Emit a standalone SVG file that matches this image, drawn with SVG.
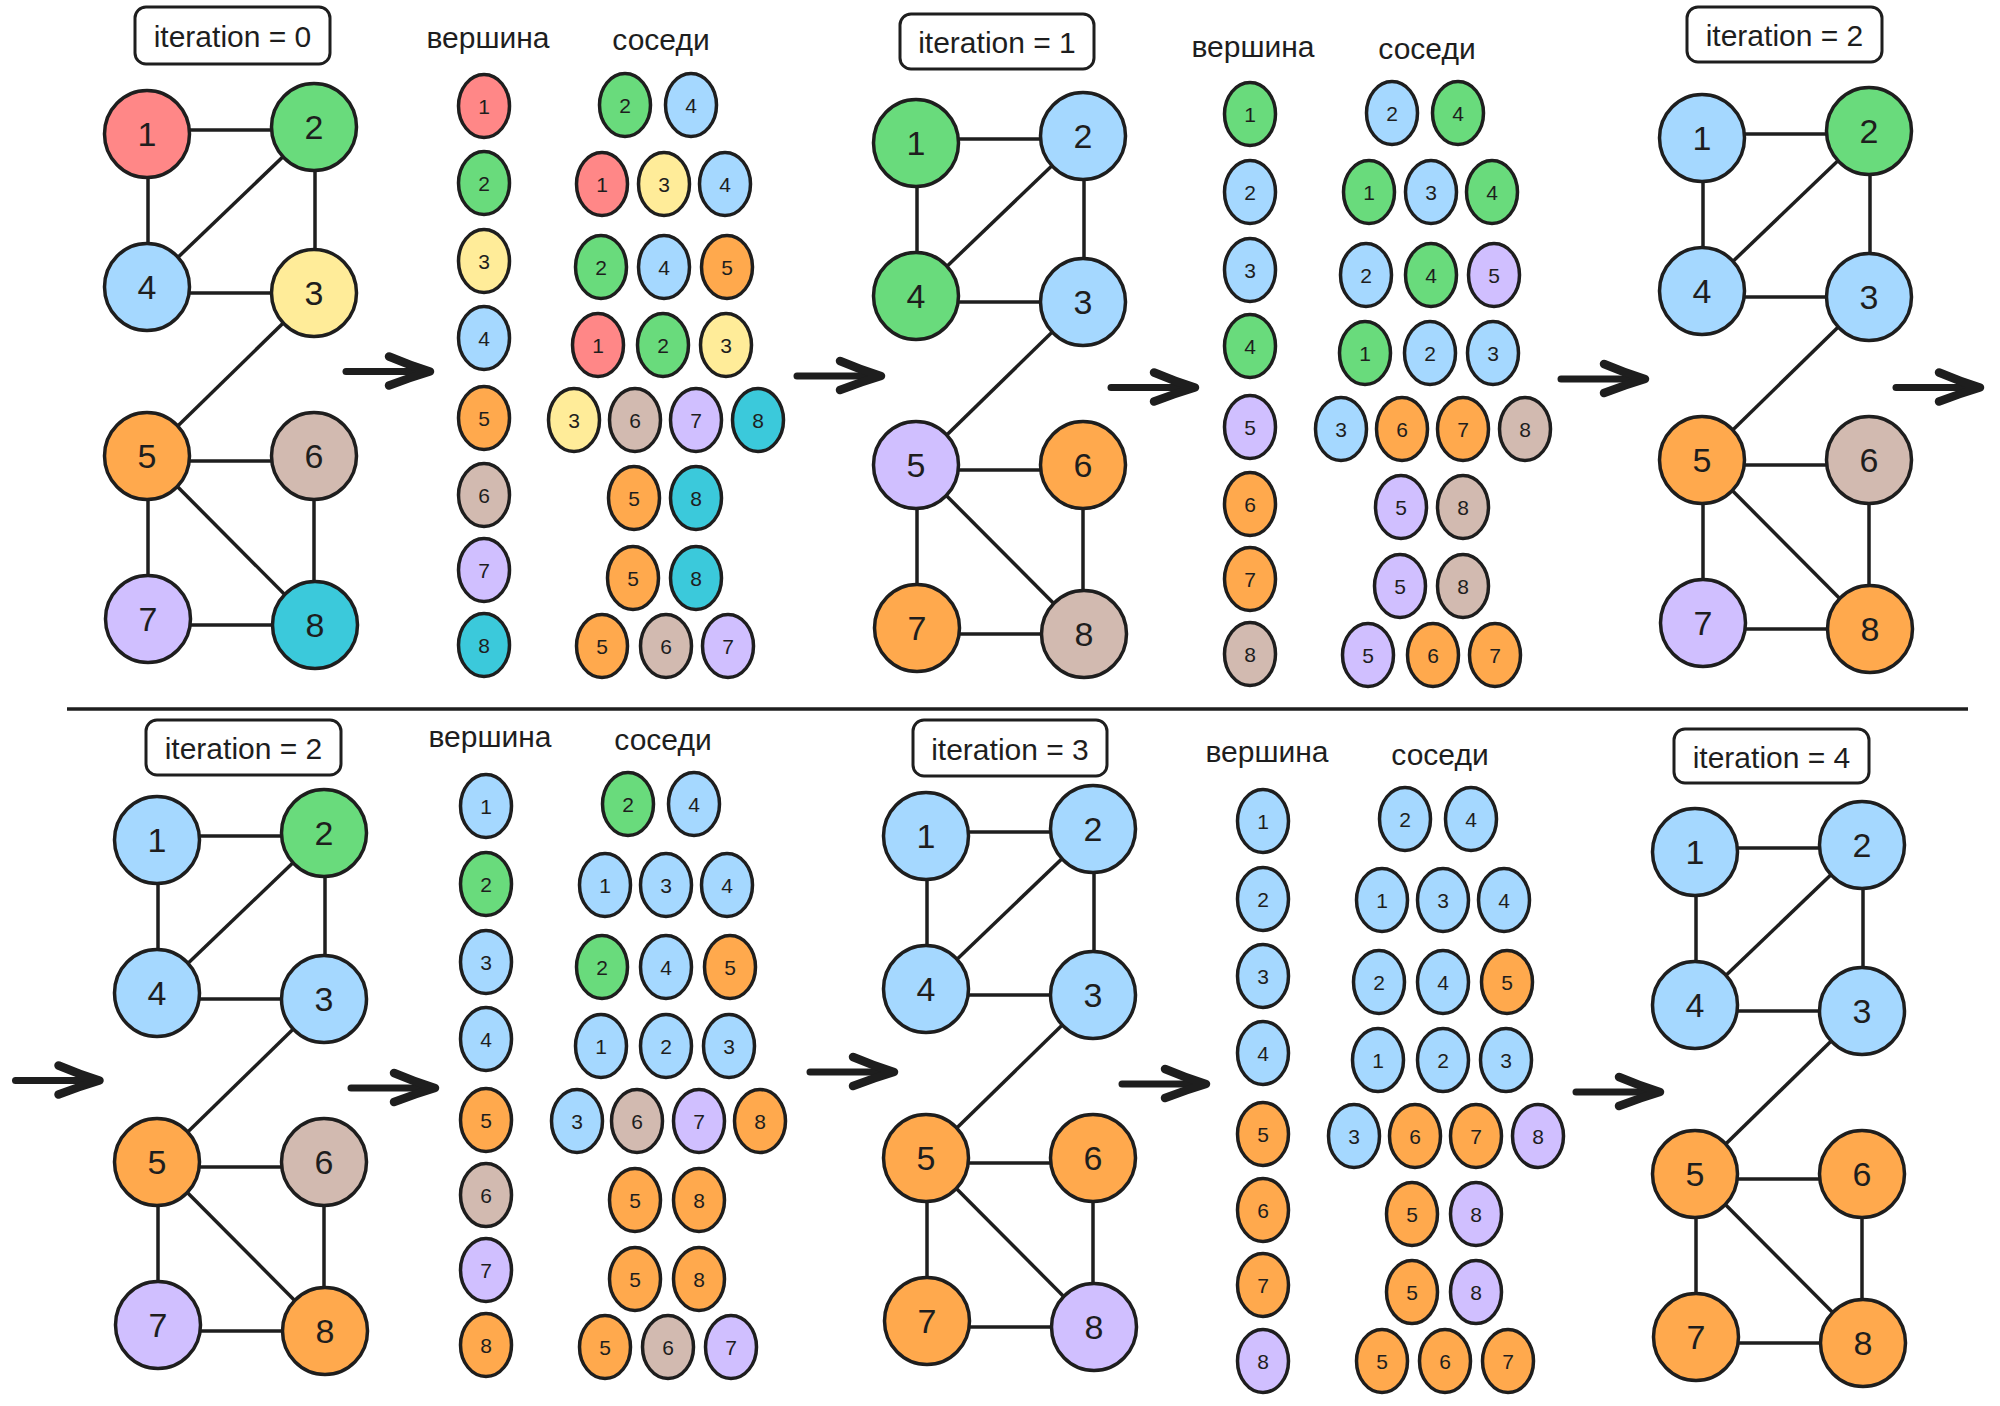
<svg xmlns="http://www.w3.org/2000/svg" xmlns:xlink="http://www.w3.org/1999/xlink" width="2000" height="1406" viewBox="0 0 2000 1406">
<style>
text{font-family:"Liberation Sans",Arial,sans-serif;fill:#1e1e1e;text-anchor:middle}
ellipse{stroke:#1e1e1e;stroke-width:3.5}
.big text{font-size:34px}
.sm text{font-size:21px}
.sm text.lbl{font-size:30px}
.box rect{fill:#fff;stroke:#1e1e1e;stroke-width:3}
.box text{font-size:30px}
.edge{stroke:#1e1e1e;stroke-width:3.5;fill:none}
.arr{stroke:#1e1e1e;fill:none;stroke-linecap:round;stroke-linejoin:round}
.R{fill:#ff8787}.G{fill:#69db7c}.Y{fill:#ffec99}.B{fill:#a5d8ff}.O{fill:#ffa94d}.T{fill:#d2bab0}.L{fill:#d0bfff}.C{fill:#3bc9db}
</style>
<defs>
<g id="edges" class="edge">
<line x1="0" y1="-4" x2="167" y2="-4"/>
<line x1="1" y1="0" x2="1" y2="153"/>
<line x1="167" y1="-7" x2="0" y2="153"/>
<line x1="168" y1="-7" x2="168" y2="159"/>
<line x1="0" y1="159" x2="167" y2="159"/>
<line x1="167" y1="159" x2="0" y2="322"/>
<line x1="0" y1="327" x2="167" y2="327"/>
<line x1="1" y1="322" x2="1" y2="485"/>
<line x1="0" y1="322" x2="168" y2="491"/>
<line x1="167" y1="322" x2="167" y2="491"/>
<line x1="1" y1="491" x2="168" y2="491"/>
</g>
<g id="arrow" class="arr">
<line x1="-84" y1="0" x2="-2" y2="0" stroke-width="7"/>
<path d="M-41,-15 Q-20,-6 0,0 Q-20,6 -41,14" stroke-width="8.5"/>
</g>
</defs>

<g id="connectors">
<use xlink:href="#edges" transform="translate(147,134)"/>
<use xlink:href="#edges" transform="translate(916,143)"/>
<use xlink:href="#edges" transform="translate(1702,138)"/>
<use xlink:href="#edges" transform="translate(157,840)"/>
<use xlink:href="#edges" transform="translate(926,836)"/>
<use xlink:href="#edges" transform="translate(1695,852)"/>
<use xlink:href="#arrow" transform="translate(430,371.5)"/>
<use xlink:href="#arrow" transform="translate(881,376)"/>
<use xlink:href="#arrow" transform="translate(1195,387.5)"/>
<use xlink:href="#arrow" transform="translate(1645,379)"/>
<use xlink:href="#arrow" transform="translate(1980,387.5)"/>
<use xlink:href="#arrow" transform="translate(99.5,1080.5)"/>
<use xlink:href="#arrow" transform="translate(435,1088)"/>
<use xlink:href="#arrow" transform="translate(894,1072)"/>
<use xlink:href="#arrow" transform="translate(1206,1084)"/>
<use xlink:href="#arrow" transform="translate(1660,1092)"/>
</g>

<line id="separator" x1="67" y1="709" x2="1968" y2="709" stroke="#1e1e1e" stroke-width="3.5"/>

<!-- iteration boxes -->
<g id="box0" class="box"><rect x="135" y="7" width="195" height="57" rx="11"/><text x="232.5" y="47">iteration = 0</text></g>
<g id="box1" class="box"><rect x="900" y="14" width="194" height="55" rx="11"/><text x="997" y="53">iteration = 1</text></g>
<g id="box2" class="box"><rect x="1687" y="7" width="195" height="55" rx="11"/><text x="1784.5" y="46">iteration = 2</text></g>
<g id="box3" class="box"><rect x="146" y="720" width="195" height="55" rx="11"/><text x="243.5" y="759">iteration = 2</text></g>
<g id="box4" class="box"><rect x="913" y="720" width="194" height="56" rx="11"/><text x="1010" y="759.5">iteration = 3</text></g>
<g id="box5" class="box"><rect x="1674" y="729" width="195" height="54" rx="11"/><text x="1771.5" y="767.5">iteration = 4</text></g>

<!-- graph 0 -->
<g id="graph0" class="big" transform="translate(147,134)">
<g id="g0-n1"><ellipse cx="0" cy="0" rx="42.5" ry="43.5" class="R"/><text x="0" y="12">1</text></g>
<g id="g0-n2"><ellipse cx="167" cy="-7" rx="42.5" ry="43.5" class="G"/><text x="167" y="5">2</text></g>
<g id="g0-n3"><ellipse cx="167" cy="159" rx="42.5" ry="43.5" class="Y"/><text x="167" y="171">3</text></g>
<g id="g0-n4"><ellipse cx="0" cy="153" rx="42.5" ry="43.5" class="B"/><text x="0" y="165">4</text></g>
<g id="g0-n5"><ellipse cx="0" cy="322" rx="42.5" ry="43.5" class="O"/><text x="0" y="334">5</text></g>
<g id="g0-n6"><ellipse cx="167" cy="322" rx="42.5" ry="43.5" class="T"/><text x="167" y="334">6</text></g>
<g id="g0-n7"><ellipse cx="1" cy="485" rx="42.5" ry="43.5" class="L"/><text x="1" y="497">7</text></g>
<g id="g0-n8"><ellipse cx="168" cy="491" rx="42.5" ry="43.5" class="C"/><text x="168" y="503">8</text></g>
</g>
<!-- graph 1 -->
<g id="graph1" class="big" transform="translate(916,143)">
<g id="g1-n1"><ellipse cx="0" cy="0" rx="42.5" ry="43.5" class="G"/><text x="0" y="12">1</text></g>
<g id="g1-n2"><ellipse cx="167" cy="-7" rx="42.5" ry="43.5" class="B"/><text x="167" y="5">2</text></g>
<g id="g1-n3"><ellipse cx="167" cy="159" rx="42.5" ry="43.5" class="B"/><text x="167" y="171">3</text></g>
<g id="g1-n4"><ellipse cx="0" cy="153" rx="42.5" ry="43.5" class="G"/><text x="0" y="165">4</text></g>
<g id="g1-n5"><ellipse cx="0" cy="322" rx="42.5" ry="43.5" class="L"/><text x="0" y="334">5</text></g>
<g id="g1-n6"><ellipse cx="167" cy="322" rx="42.5" ry="43.5" class="O"/><text x="167" y="334">6</text></g>
<g id="g1-n7"><ellipse cx="1" cy="485" rx="42.5" ry="43.5" class="O"/><text x="1" y="497">7</text></g>
<g id="g1-n8"><ellipse cx="168" cy="491" rx="42.5" ry="43.5" class="T"/><text x="168" y="503">8</text></g>
</g>
<!-- graph 2 -->
<g id="graph2" class="big" transform="translate(1702,138)">
<g id="g2-n1"><ellipse cx="0" cy="0" rx="42.5" ry="43.5" class="B"/><text x="0" y="12">1</text></g>
<g id="g2-n2"><ellipse cx="167" cy="-7" rx="42.5" ry="43.5" class="G"/><text x="167" y="5">2</text></g>
<g id="g2-n3"><ellipse cx="167" cy="159" rx="42.5" ry="43.5" class="B"/><text x="167" y="171">3</text></g>
<g id="g2-n4"><ellipse cx="0" cy="153" rx="42.5" ry="43.5" class="B"/><text x="0" y="165">4</text></g>
<g id="g2-n5"><ellipse cx="0" cy="322" rx="42.5" ry="43.5" class="O"/><text x="0" y="334">5</text></g>
<g id="g2-n6"><ellipse cx="167" cy="322" rx="42.5" ry="43.5" class="T"/><text x="167" y="334">6</text></g>
<g id="g2-n7"><ellipse cx="1" cy="485" rx="42.5" ry="43.5" class="L"/><text x="1" y="497">7</text></g>
<g id="g2-n8"><ellipse cx="168" cy="491" rx="42.5" ry="43.5" class="O"/><text x="168" y="503">8</text></g>
</g>
<!-- graph 3 -->
<g id="graph3" class="big" transform="translate(157,840)">
<g id="g3-n1"><ellipse cx="0" cy="0" rx="42.5" ry="43.5" class="B"/><text x="0" y="12">1</text></g>
<g id="g3-n2"><ellipse cx="167" cy="-7" rx="42.5" ry="43.5" class="G"/><text x="167" y="5">2</text></g>
<g id="g3-n3"><ellipse cx="167" cy="159" rx="42.5" ry="43.5" class="B"/><text x="167" y="171">3</text></g>
<g id="g3-n4"><ellipse cx="0" cy="153" rx="42.5" ry="43.5" class="B"/><text x="0" y="165">4</text></g>
<g id="g3-n5"><ellipse cx="0" cy="322" rx="42.5" ry="43.5" class="O"/><text x="0" y="334">5</text></g>
<g id="g3-n6"><ellipse cx="167" cy="322" rx="42.5" ry="43.5" class="T"/><text x="167" y="334">6</text></g>
<g id="g3-n7"><ellipse cx="1" cy="485" rx="42.5" ry="43.5" class="L"/><text x="1" y="497">7</text></g>
<g id="g3-n8"><ellipse cx="168" cy="491" rx="42.5" ry="43.5" class="O"/><text x="168" y="503">8</text></g>
</g>
<!-- graph 4 -->
<g id="graph4" class="big" transform="translate(926,836)">
<g id="g4-n1"><ellipse cx="0" cy="0" rx="42.5" ry="43.5" class="B"/><text x="0" y="12">1</text></g>
<g id="g4-n2"><ellipse cx="167" cy="-7" rx="42.5" ry="43.5" class="B"/><text x="167" y="5">2</text></g>
<g id="g4-n3"><ellipse cx="167" cy="159" rx="42.5" ry="43.5" class="B"/><text x="167" y="171">3</text></g>
<g id="g4-n4"><ellipse cx="0" cy="153" rx="42.5" ry="43.5" class="B"/><text x="0" y="165">4</text></g>
<g id="g4-n5"><ellipse cx="0" cy="322" rx="42.5" ry="43.5" class="O"/><text x="0" y="334">5</text></g>
<g id="g4-n6"><ellipse cx="167" cy="322" rx="42.5" ry="43.5" class="O"/><text x="167" y="334">6</text></g>
<g id="g4-n7"><ellipse cx="1" cy="485" rx="42.5" ry="43.5" class="O"/><text x="1" y="497">7</text></g>
<g id="g4-n8"><ellipse cx="168" cy="491" rx="42.5" ry="43.5" class="L"/><text x="168" y="503">8</text></g>
</g>
<!-- graph 5 -->
<g id="graph5" class="big" transform="translate(1695,852)">
<g id="g5-n1"><ellipse cx="0" cy="0" rx="42.5" ry="43.5" class="B"/><text x="0" y="12">1</text></g>
<g id="g5-n2"><ellipse cx="167" cy="-7" rx="42.5" ry="43.5" class="B"/><text x="167" y="5">2</text></g>
<g id="g5-n3"><ellipse cx="167" cy="159" rx="42.5" ry="43.5" class="B"/><text x="167" y="171">3</text></g>
<g id="g5-n4"><ellipse cx="0" cy="153" rx="42.5" ry="43.5" class="B"/><text x="0" y="165">4</text></g>
<g id="g5-n5"><ellipse cx="0" cy="322" rx="42.5" ry="43.5" class="O"/><text x="0" y="334">5</text></g>
<g id="g5-n6"><ellipse cx="167" cy="322" rx="42.5" ry="43.5" class="O"/><text x="167" y="334">6</text></g>
<g id="g5-n7"><ellipse cx="1" cy="485" rx="42.5" ry="43.5" class="O"/><text x="1" y="497">7</text></g>
<g id="g5-n8"><ellipse cx="168" cy="491" rx="42.5" ry="43.5" class="O"/><text x="168" y="503">8</text></g>
</g>

<!-- table 0 -->
<g id="table0" class="sm">
<text class="lbl" x="488" y="48">вершина</text>
<text class="lbl" x="661" y="50">соседи</text>
<g id="t0-v1"><ellipse cx="484" cy="106" rx="25.5" ry="31.5" class="R"/><text x="484" y="113.5">1</text></g>
<g id="t0-v2"><ellipse cx="484" cy="183" rx="25.5" ry="31.5" class="G"/><text x="484" y="190.5">2</text></g>
<g id="t0-v3"><ellipse cx="484" cy="261" rx="25.5" ry="31.5" class="Y"/><text x="484" y="268.5">3</text></g>
<g id="t0-v4"><ellipse cx="484" cy="338" rx="25.5" ry="31.5" class="B"/><text x="484" y="345.5">4</text></g>
<g id="t0-v5"><ellipse cx="484" cy="418" rx="25.5" ry="31.5" class="O"/><text x="484" y="425.5">5</text></g>
<g id="t0-v6"><ellipse cx="484" cy="495" rx="25.5" ry="31.5" class="T"/><text x="484" y="502.5">6</text></g>
<g id="t0-v7"><ellipse cx="484" cy="570" rx="25.5" ry="31.5" class="L"/><text x="484" y="577.5">7</text></g>
<g id="t0-v8"><ellipse cx="484" cy="645" rx="25.5" ry="31.5" class="C"/><text x="484" y="652.5">8</text></g>
<g id="t0-r1a"><ellipse cx="625" cy="105" rx="25.5" ry="31.5" class="G"/><text x="625" y="112.5">2</text></g>
<g id="t0-r1b"><ellipse cx="691" cy="105" rx="25.5" ry="31.5" class="B"/><text x="691" y="112.5">4</text></g>
<g id="t0-r2a"><ellipse cx="602" cy="184" rx="25.5" ry="31.5" class="R"/><text x="602" y="191.5">1</text></g>
<g id="t0-r2b"><ellipse cx="664" cy="184" rx="25.5" ry="31.5" class="Y"/><text x="664" y="191.5">3</text></g>
<g id="t0-r2c"><ellipse cx="725" cy="184" rx="25.5" ry="31.5" class="B"/><text x="725" y="191.5">4</text></g>
<g id="t0-r3a"><ellipse cx="601" cy="267" rx="25.5" ry="31.5" class="G"/><text x="601" y="274.5">2</text></g>
<g id="t0-r3b"><ellipse cx="664" cy="267" rx="25.5" ry="31.5" class="B"/><text x="664" y="274.5">4</text></g>
<g id="t0-r3c"><ellipse cx="727" cy="267" rx="25.5" ry="31.5" class="O"/><text x="727" y="274.5">5</text></g>
<g id="t0-r4a"><ellipse cx="598" cy="345" rx="25.5" ry="31.5" class="R"/><text x="598" y="352.5">1</text></g>
<g id="t0-r4b"><ellipse cx="663" cy="345" rx="25.5" ry="31.5" class="G"/><text x="663" y="352.5">2</text></g>
<g id="t0-r4c"><ellipse cx="726" cy="345" rx="25.5" ry="31.5" class="Y"/><text x="726" y="352.5">3</text></g>
<g id="t0-r5a"><ellipse cx="574" cy="420" rx="25.5" ry="31.5" class="Y"/><text x="574" y="427.5">3</text></g>
<g id="t0-r5b"><ellipse cx="635" cy="420" rx="25.5" ry="31.5" class="T"/><text x="635" y="427.5">6</text></g>
<g id="t0-r5c"><ellipse cx="696" cy="420" rx="25.5" ry="31.5" class="L"/><text x="696" y="427.5">7</text></g>
<g id="t0-r5d"><ellipse cx="758" cy="420" rx="25.5" ry="31.5" class="C"/><text x="758" y="427.5">8</text></g>
<g id="t0-r6a"><ellipse cx="634" cy="498" rx="25.5" ry="31.5" class="O"/><text x="634" y="505.5">5</text></g>
<g id="t0-r6b"><ellipse cx="696" cy="498" rx="25.5" ry="31.5" class="C"/><text x="696" y="505.5">8</text></g>
<g id="t0-r7a"><ellipse cx="633" cy="578" rx="25.5" ry="31.5" class="O"/><text x="633" y="585.5">5</text></g>
<g id="t0-r7b"><ellipse cx="696" cy="578" rx="25.5" ry="31.5" class="C"/><text x="696" y="585.5">8</text></g>
<g id="t0-r8a"><ellipse cx="602" cy="646" rx="25.5" ry="31.5" class="O"/><text x="602" y="653.5">5</text></g>
<g id="t0-r8b"><ellipse cx="666" cy="646" rx="25.5" ry="31.5" class="T"/><text x="666" y="653.5">6</text></g>
<g id="t0-r8c"><ellipse cx="728" cy="646" rx="25.5" ry="31.5" class="L"/><text x="728" y="653.5">7</text></g>
</g>

<!-- table 1 -->
<g id="table1" class="sm">
<text class="lbl" x="1253" y="57">вершина</text>
<text class="lbl" x="1427" y="59">соседи</text>
<g id="t1-v1"><ellipse cx="1250" cy="114" rx="25.5" ry="31.5" class="G"/><text x="1250" y="121.5">1</text></g>
<g id="t1-v2"><ellipse cx="1250" cy="192" rx="25.5" ry="31.5" class="B"/><text x="1250" y="199.5">2</text></g>
<g id="t1-v3"><ellipse cx="1250" cy="270" rx="25.5" ry="31.5" class="B"/><text x="1250" y="277.5">3</text></g>
<g id="t1-v4"><ellipse cx="1250" cy="346" rx="25.5" ry="31.5" class="G"/><text x="1250" y="353.5">4</text></g>
<g id="t1-v5"><ellipse cx="1250" cy="427" rx="25.5" ry="31.5" class="L"/><text x="1250" y="434.5">5</text></g>
<g id="t1-v6"><ellipse cx="1250" cy="504" rx="25.5" ry="31.5" class="O"/><text x="1250" y="511.5">6</text></g>
<g id="t1-v7"><ellipse cx="1250" cy="579" rx="25.5" ry="31.5" class="O"/><text x="1250" y="586.5">7</text></g>
<g id="t1-v8"><ellipse cx="1250" cy="654" rx="25.5" ry="31.5" class="T"/><text x="1250" y="661.5">8</text></g>
<g id="t1-r1a"><ellipse cx="1392" cy="113" rx="25.5" ry="31.5" class="B"/><text x="1392" y="120.5">2</text></g>
<g id="t1-r1b"><ellipse cx="1458" cy="113" rx="25.5" ry="31.5" class="G"/><text x="1458" y="120.5">4</text></g>
<g id="t1-r2a"><ellipse cx="1369" cy="192" rx="25.5" ry="31.5" class="G"/><text x="1369" y="199.5">1</text></g>
<g id="t1-r2b"><ellipse cx="1431" cy="192" rx="25.5" ry="31.5" class="B"/><text x="1431" y="199.5">3</text></g>
<g id="t1-r2c"><ellipse cx="1492" cy="192" rx="25.5" ry="31.5" class="G"/><text x="1492" y="199.5">4</text></g>
<g id="t1-r3a"><ellipse cx="1366" cy="275" rx="25.5" ry="31.5" class="B"/><text x="1366" y="282.5">2</text></g>
<g id="t1-r3b"><ellipse cx="1431" cy="275" rx="25.5" ry="31.5" class="G"/><text x="1431" y="282.5">4</text></g>
<g id="t1-r3c"><ellipse cx="1494" cy="275" rx="25.5" ry="31.5" class="L"/><text x="1494" y="282.5">5</text></g>
<g id="t1-r4a"><ellipse cx="1365" cy="353" rx="25.5" ry="31.5" class="G"/><text x="1365" y="360.5">1</text></g>
<g id="t1-r4b"><ellipse cx="1430" cy="353" rx="25.5" ry="31.5" class="B"/><text x="1430" y="360.5">2</text></g>
<g id="t1-r4c"><ellipse cx="1493" cy="353" rx="25.5" ry="31.5" class="B"/><text x="1493" y="360.5">3</text></g>
<g id="t1-r5a"><ellipse cx="1341" cy="429" rx="25.5" ry="31.5" class="B"/><text x="1341" y="436.5">3</text></g>
<g id="t1-r5b"><ellipse cx="1402" cy="429" rx="25.5" ry="31.5" class="O"/><text x="1402" y="436.5">6</text></g>
<g id="t1-r5c"><ellipse cx="1463" cy="429" rx="25.5" ry="31.5" class="O"/><text x="1463" y="436.5">7</text></g>
<g id="t1-r5d"><ellipse cx="1525" cy="429" rx="25.5" ry="31.5" class="T"/><text x="1525" y="436.5">8</text></g>
<g id="t1-r6a"><ellipse cx="1401" cy="507" rx="25.5" ry="31.5" class="L"/><text x="1401" y="514.5">5</text></g>
<g id="t1-r6b"><ellipse cx="1463" cy="507" rx="25.5" ry="31.5" class="T"/><text x="1463" y="514.5">8</text></g>
<g id="t1-r7a"><ellipse cx="1400" cy="586" rx="25.5" ry="31.5" class="L"/><text x="1400" y="593.5">5</text></g>
<g id="t1-r7b"><ellipse cx="1463" cy="586" rx="25.5" ry="31.5" class="T"/><text x="1463" y="593.5">8</text></g>
<g id="t1-r8a"><ellipse cx="1368" cy="655" rx="25.5" ry="31.5" class="L"/><text x="1368" y="662.5">5</text></g>
<g id="t1-r8b"><ellipse cx="1433" cy="655" rx="25.5" ry="31.5" class="O"/><text x="1433" y="662.5">6</text></g>
<g id="t1-r8c"><ellipse cx="1495" cy="655" rx="25.5" ry="31.5" class="O"/><text x="1495" y="662.5">7</text></g>
</g>

<!-- table 2 -->
<g id="table2" class="sm">
<text class="lbl" x="490" y="747">вершина</text>
<text class="lbl" x="663" y="750">соседи</text>
<g id="t2-v1"><ellipse cx="486" cy="806" rx="25.5" ry="31.5" class="B"/><text x="486" y="813.5">1</text></g>
<g id="t2-v2"><ellipse cx="486" cy="884" rx="25.5" ry="31.5" class="G"/><text x="486" y="891.5">2</text></g>
<g id="t2-v3"><ellipse cx="486" cy="962" rx="25.5" ry="31.5" class="B"/><text x="486" y="969.5">3</text></g>
<g id="t2-v4"><ellipse cx="486" cy="1039" rx="25.5" ry="31.5" class="B"/><text x="486" y="1046.5">4</text></g>
<g id="t2-v5"><ellipse cx="486" cy="1120" rx="25.5" ry="31.5" class="O"/><text x="486" y="1127.5">5</text></g>
<g id="t2-v6"><ellipse cx="486" cy="1195" rx="25.5" ry="31.5" class="T"/><text x="486" y="1202.5">6</text></g>
<g id="t2-v7"><ellipse cx="486" cy="1270" rx="25.5" ry="31.5" class="L"/><text x="486" y="1277.5">7</text></g>
<g id="t2-v8"><ellipse cx="486" cy="1345" rx="25.5" ry="31.5" class="O"/><text x="486" y="1352.5">8</text></g>
<g id="t2-r1a"><ellipse cx="628" cy="804" rx="25.5" ry="31.5" class="G"/><text x="628" y="811.5">2</text></g>
<g id="t2-r1b"><ellipse cx="694" cy="804" rx="25.5" ry="31.5" class="B"/><text x="694" y="811.5">4</text></g>
<g id="t2-r2a"><ellipse cx="605" cy="885" rx="25.5" ry="31.5" class="B"/><text x="605" y="892.5">1</text></g>
<g id="t2-r2b"><ellipse cx="666" cy="885" rx="25.5" ry="31.5" class="B"/><text x="666" y="892.5">3</text></g>
<g id="t2-r2c"><ellipse cx="727" cy="885" rx="25.5" ry="31.5" class="B"/><text x="727" y="892.5">4</text></g>
<g id="t2-r3a"><ellipse cx="602" cy="967" rx="25.5" ry="31.5" class="G"/><text x="602" y="974.5">2</text></g>
<g id="t2-r3b"><ellipse cx="666" cy="967" rx="25.5" ry="31.5" class="B"/><text x="666" y="974.5">4</text></g>
<g id="t2-r3c"><ellipse cx="730" cy="967" rx="25.5" ry="31.5" class="O"/><text x="730" y="974.5">5</text></g>
<g id="t2-r4a"><ellipse cx="601" cy="1046" rx="25.5" ry="31.5" class="B"/><text x="601" y="1053.5">1</text></g>
<g id="t2-r4b"><ellipse cx="666" cy="1046" rx="25.5" ry="31.5" class="B"/><text x="666" y="1053.5">2</text></g>
<g id="t2-r4c"><ellipse cx="729" cy="1046" rx="25.5" ry="31.5" class="B"/><text x="729" y="1053.5">3</text></g>
<g id="t2-r5a"><ellipse cx="577" cy="1121" rx="25.5" ry="31.5" class="B"/><text x="577" y="1128.5">3</text></g>
<g id="t2-r5b"><ellipse cx="637" cy="1121" rx="25.5" ry="31.5" class="T"/><text x="637" y="1128.5">6</text></g>
<g id="t2-r5c"><ellipse cx="699" cy="1121" rx="25.5" ry="31.5" class="L"/><text x="699" y="1128.5">7</text></g>
<g id="t2-r5d"><ellipse cx="760" cy="1121" rx="25.5" ry="31.5" class="O"/><text x="760" y="1128.5">8</text></g>
<g id="t2-r6a"><ellipse cx="635" cy="1200" rx="25.5" ry="31.5" class="O"/><text x="635" y="1207.5">5</text></g>
<g id="t2-r6b"><ellipse cx="699" cy="1200" rx="25.5" ry="31.5" class="O"/><text x="699" y="1207.5">8</text></g>
<g id="t2-r7a"><ellipse cx="635" cy="1279" rx="25.5" ry="31.5" class="O"/><text x="635" y="1286.5">5</text></g>
<g id="t2-r7b"><ellipse cx="699" cy="1279" rx="25.5" ry="31.5" class="O"/><text x="699" y="1286.5">8</text></g>
<g id="t2-r8a"><ellipse cx="605" cy="1347" rx="25.5" ry="31.5" class="O"/><text x="605" y="1354.5">5</text></g>
<g id="t2-r8b"><ellipse cx="668" cy="1347" rx="25.5" ry="31.5" class="T"/><text x="668" y="1354.5">6</text></g>
<g id="t2-r8c"><ellipse cx="731" cy="1347" rx="25.5" ry="31.5" class="L"/><text x="731" y="1354.5">7</text></g>
</g>

<!-- table 3 -->
<g id="table3" class="sm">
<text class="lbl" x="1267" y="762">вершина</text>
<text class="lbl" x="1440" y="765">соседи</text>
<g id="t3-v1"><ellipse cx="1263" cy="821" rx="25.5" ry="31.5" class="B"/><text x="1263" y="828.5">1</text></g>
<g id="t3-v2"><ellipse cx="1263" cy="899" rx="25.5" ry="31.5" class="B"/><text x="1263" y="906.5">2</text></g>
<g id="t3-v3"><ellipse cx="1263" cy="976" rx="25.5" ry="31.5" class="B"/><text x="1263" y="983.5">3</text></g>
<g id="t3-v4"><ellipse cx="1263" cy="1053" rx="25.5" ry="31.5" class="B"/><text x="1263" y="1060.5">4</text></g>
<g id="t3-v5"><ellipse cx="1263" cy="1134" rx="25.5" ry="31.5" class="O"/><text x="1263" y="1141.5">5</text></g>
<g id="t3-v6"><ellipse cx="1263" cy="1210" rx="25.5" ry="31.5" class="O"/><text x="1263" y="1217.5">6</text></g>
<g id="t3-v7"><ellipse cx="1263" cy="1285" rx="25.5" ry="31.5" class="O"/><text x="1263" y="1292.5">7</text></g>
<g id="t3-v8"><ellipse cx="1263" cy="1361" rx="25.5" ry="31.5" class="L"/><text x="1263" y="1368.5">8</text></g>
<g id="t3-r1a"><ellipse cx="1405" cy="819" rx="25.5" ry="31.5" class="B"/><text x="1405" y="826.5">2</text></g>
<g id="t3-r1b"><ellipse cx="1471" cy="819" rx="25.5" ry="31.5" class="B"/><text x="1471" y="826.5">4</text></g>
<g id="t3-r2a"><ellipse cx="1382" cy="900" rx="25.5" ry="31.5" class="B"/><text x="1382" y="907.5">1</text></g>
<g id="t3-r2b"><ellipse cx="1443" cy="900" rx="25.5" ry="31.5" class="B"/><text x="1443" y="907.5">3</text></g>
<g id="t3-r2c"><ellipse cx="1504" cy="900" rx="25.5" ry="31.5" class="B"/><text x="1504" y="907.5">4</text></g>
<g id="t3-r3a"><ellipse cx="1379" cy="982" rx="25.5" ry="31.5" class="B"/><text x="1379" y="989.5">2</text></g>
<g id="t3-r3b"><ellipse cx="1443" cy="982" rx="25.5" ry="31.5" class="B"/><text x="1443" y="989.5">4</text></g>
<g id="t3-r3c"><ellipse cx="1507" cy="982" rx="25.5" ry="31.5" class="O"/><text x="1507" y="989.5">5</text></g>
<g id="t3-r4a"><ellipse cx="1378" cy="1060" rx="25.5" ry="31.5" class="B"/><text x="1378" y="1067.5">1</text></g>
<g id="t3-r4b"><ellipse cx="1443" cy="1060" rx="25.5" ry="31.5" class="B"/><text x="1443" y="1067.5">2</text></g>
<g id="t3-r4c"><ellipse cx="1506" cy="1060" rx="25.5" ry="31.5" class="B"/><text x="1506" y="1067.5">3</text></g>
<g id="t3-r5a"><ellipse cx="1354" cy="1136" rx="25.5" ry="31.5" class="B"/><text x="1354" y="1143.5">3</text></g>
<g id="t3-r5b"><ellipse cx="1415" cy="1136" rx="25.5" ry="31.5" class="O"/><text x="1415" y="1143.5">6</text></g>
<g id="t3-r5c"><ellipse cx="1476" cy="1136" rx="25.5" ry="31.5" class="O"/><text x="1476" y="1143.5">7</text></g>
<g id="t3-r5d"><ellipse cx="1538" cy="1136" rx="25.5" ry="31.5" class="L"/><text x="1538" y="1143.5">8</text></g>
<g id="t3-r6a"><ellipse cx="1412" cy="1214" rx="25.5" ry="31.5" class="O"/><text x="1412" y="1221.5">5</text></g>
<g id="t3-r6b"><ellipse cx="1476" cy="1214" rx="25.5" ry="31.5" class="L"/><text x="1476" y="1221.5">8</text></g>
<g id="t3-r7a"><ellipse cx="1412" cy="1292" rx="25.5" ry="31.5" class="O"/><text x="1412" y="1299.5">5</text></g>
<g id="t3-r7b"><ellipse cx="1476" cy="1292" rx="25.5" ry="31.5" class="L"/><text x="1476" y="1299.5">8</text></g>
<g id="t3-r8a"><ellipse cx="1382" cy="1361" rx="25.5" ry="31.5" class="O"/><text x="1382" y="1368.5">5</text></g>
<g id="t3-r8b"><ellipse cx="1445" cy="1361" rx="25.5" ry="31.5" class="O"/><text x="1445" y="1368.5">6</text></g>
<g id="t3-r8c"><ellipse cx="1508" cy="1361" rx="25.5" ry="31.5" class="O"/><text x="1508" y="1368.5">7</text></g>
</g>
</svg>
